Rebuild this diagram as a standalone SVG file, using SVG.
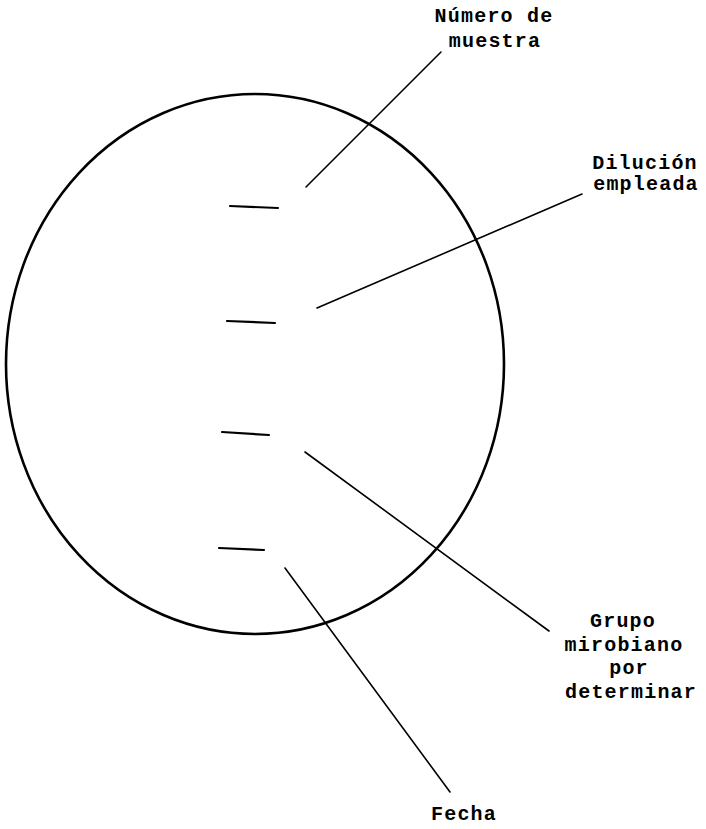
<svg xmlns="http://www.w3.org/2000/svg" width="706" height="829" viewBox="0 0 706 829">
<style>
.lbl{font-family:"Liberation Mono","DejaVu Sans Mono",monospace;font-weight:bold;font-size:20px;letter-spacing:1.2px;fill:#000;text-anchor:middle}
.lead{stroke:#000;stroke-width:1.6;fill:none;stroke-linecap:round}
.dash{stroke:#000;stroke-width:2.2;fill:none;stroke-linecap:round}
</style>
<rect width="706" height="829" fill="#fff"/>
<g id="plate">
<ellipse cx="255" cy="364" rx="249" ry="270" fill="none" stroke="#000" stroke-width="2.6"/>
<line class="dash" x1="230" y1="206" x2="278" y2="208"/>
<line class="dash" x1="227" y1="321" x2="275" y2="323"/>
<line class="dash" x1="222" y1="432" x2="269" y2="435"/>
<line class="dash" x1="219" y1="548" x2="264" y2="550"/>
</g>
<g id="connectors">
<line class="lead" x1="306" y1="187" x2="441" y2="52"/>
<line class="lead" x1="317" y1="308" x2="582" y2="194"/>
<line class="lead" x1="305" y1="452" x2="549" y2="631"/>
<line class="lead" x1="285" y1="568" x2="450" y2="792"/>
</g>
<g id="label-numero">
<text class="lbl" x="494" y="22">Número de</text>
<text class="lbl" x="495" y="47">muestra</text>
</g>
<g id="label-dilucion">
<text class="lbl" x="645" y="169">Dilución</text>
<text class="lbl" x="646" y="190">empleada</text>
</g>
<g id="label-grupo">
<text class="lbl" x="623" y="627">Grupo</text>
<text class="lbl" x="624" y="651">mirobiano</text>
<text class="lbl" x="629" y="674">por</text>
<text class="lbl" x="631" y="698">determinar</text>
</g>
<g id="label-fecha">
<text class="lbl" x="464" y="820">Fecha</text>
</g>
</svg>
